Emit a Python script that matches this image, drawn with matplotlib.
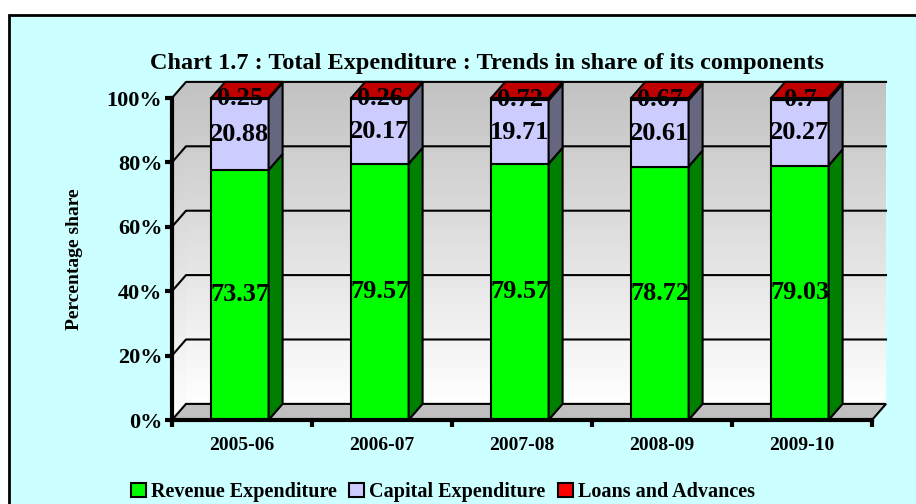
import numpy as np
import matplotlib
matplotlib.use("Agg")
import matplotlib.pyplot as plt
from matplotlib.patches import Polygon, Rectangle, Patch

plt.rcParams['font.family'] = ['Liberation Serif', 'DejaVu Serif']
plt.rcParams['font.weight'] = 'bold'

# data
years = ['2005-06', '2006-07', '2007-08', '2008-09', '2009-10']
revenue = [73.37, 79.57, 79.57, 78.72, 79.03]
capital = [20.88, 20.17, 19.71, 20.61, 20.27]
loans = [0.25, 0.26, 0.72, 0.67, 0.7]

series_names = ['Revenue Expenditure', 'Capital Expenditure', 'Loans and Advances']
front_cols = ['#00FF00', '#CCCCFF', '#FF0000']
side_cols = ['#008000', '#666680', '#800000']
top_col = '#C00000'

W, H = 916, 504
fig = plt.figure(figsize=(W / 100, H / 100), dpi=100)
fig.patch.set_facecolor('white')
fig.patches.append(Rectangle((9 / W, -0.05), 1.0, (H - 15) / H + 0.05,
                             transform=fig.transFigure, facecolor='#CCFFFF',
                             edgecolor='black', linewidth=2, zorder=-5))

ax = fig.add_axes([172 / W, (H - 420) / H, 700 / W, 322 / H])
ax.set_facecolor('none')

dx, dy = 0.1, 5.0   # depth offset in data units
x0, x1 = -0.5, 4.5

# gradient back wall and left wall (grey at top, white at bottom)
grad = np.linspace(0.76, 1.0, 256).reshape(-1, 1)
grad = np.repeat(grad[:, :, None], 3, axis=2)

back = Polygon([(x0 + dx, dy), (x1 + dx, dy), (x1 + dx, 100 + dy), (x0 + dx, 100 + dy)],
               closed=True, facecolor='none', edgecolor='none', clip_on=False)
ax.add_patch(back)
im = ax.imshow(grad[::-1], extent=(x0 + dx, x1 + dx, dy, 100 + dy), aspect='auto',
               origin='lower', zorder=0.5)
im.set_clip_path(back)
im.set_clip_box(fig.bbox)

left = Polygon([(x0, 0), (x0 + dx, dy), (x0 + dx, 100 + dy), (x0, 100)],
               closed=True, facecolor='none', edgecolor='none', clip_on=False)
ax.add_patch(left)
im2 = ax.imshow(grad[::-1], extent=(x0, x0 + dx, 0, 100 + dy), aspect='auto',
                origin='lower', zorder=0.5)
im2.set_clip_path(left)
im2.set_clip_box(fig.bbox)

ax.set_xlim(-0.5, 4.5)
ax.set_ylim(0, 100)

# floor
ax.add_patch(Polygon([(x0, 0), (x1, 0), (x1 + dx, dy), (x0 + dx, dy)], closed=True,
                     facecolor='#C0C0C0', edgecolor='black', linewidth=1.5,
                     clip_on=False, zorder=1))

# gridlines
for g in [20, 40, 60, 80, 100]:
    ax.plot([x0, x0 + dx, x1 + dx], [g, g + dy, g + dy], color='black', lw=1.5,
            clip_on=False, zorder=1)

# bars
bw = 0.41
for i in range(len(years)):
    vals = [revenue[i], capital[i], loans[i]]
    tot = sum(vals)
    pct = [v / tot * 100 for v in vals]
    bl, br = i - bw / 2 - 0.015, i + bw / 2 - 0.015
    bottom = 0
    for k, p in enumerate(pct):
        top = bottom + p
        ax.add_patch(Polygon([(bl, bottom), (br, bottom), (br, top), (bl, top)], closed=True,
                             facecolor=front_cols[k], edgecolor='black', linewidth=1.5,
                             clip_on=False, zorder=3))
        ax.add_patch(Polygon([(br, bottom), (br + dx, bottom + dy), (br + dx, top + dy), (br, top)],
                             closed=True, facecolor=side_cols[k], edgecolor='black',
                             linewidth=1.5, clip_on=False, zorder=3))
        ax.text((bl + br) / 2, bottom + p / 2, f'{vals[k]:g}', ha='center', va='center',
                fontsize=19, fontweight='bold', zorder=5, clip_on=False)
        bottom = top
    ax.add_patch(Polygon([(bl, 100), (br, 100), (br + dx, 100 + dy), (bl + dx, 100 + dy)],
                         closed=True, facecolor=top_col, edgecolor='black', linewidth=1.5,
                         clip_on=False, zorder=4))

# axes
for s in ['top', 'right']:
    ax.spines[s].set_visible(False)
for s in ['left', 'bottom']:
    ax.spines[s].set_linewidth(3)
    ax.spines[s].set_zorder(6)

ax.set_yticks([0, 20, 40, 60, 80, 100])
ax.set_yticklabels([f'{v}%' for v in [0, 20, 40, 60, 80, 100]], fontsize=16, fontweight='bold')
ax.tick_params(axis='y', length=5, width=3, pad=2)

ax.set_xticks(range(len(years)))
ax.set_xticklabels(years, fontsize=14, fontweight='bold')
ax.set_xticks(np.arange(-0.5, 5.0, 1.0), minor=True)
ax.tick_params(axis='x', which='major', length=0, pad=12)
ax.tick_params(axis='x', which='minor', length=5, width=3)

ax.set_ylabel('Percentage share', fontsize=14, fontweight='bold', labelpad=17)

fig.text(487 / W, 1 - 64 / H, 'Chart 1.7 : Total Expenditure : Trends in share of its components',
         ha='center', va='center', fontsize=17.5, fontweight='bold')

handles = [Patch(facecolor=c, edgecolor='black', linewidth=1.5) for c in front_cols]
fig.legend(handles, series_names, loc='center', bbox_to_anchor=(443 / W, 1 - 492 / H),
           ncol=3, frameon=False, prop={'size': 14.5, 'weight': 'bold'},
           handlelength=0.75, handleheight=0.75, handletextpad=0.25, columnspacing=0.6)

fig.savefig('out.png', dpi=100)
